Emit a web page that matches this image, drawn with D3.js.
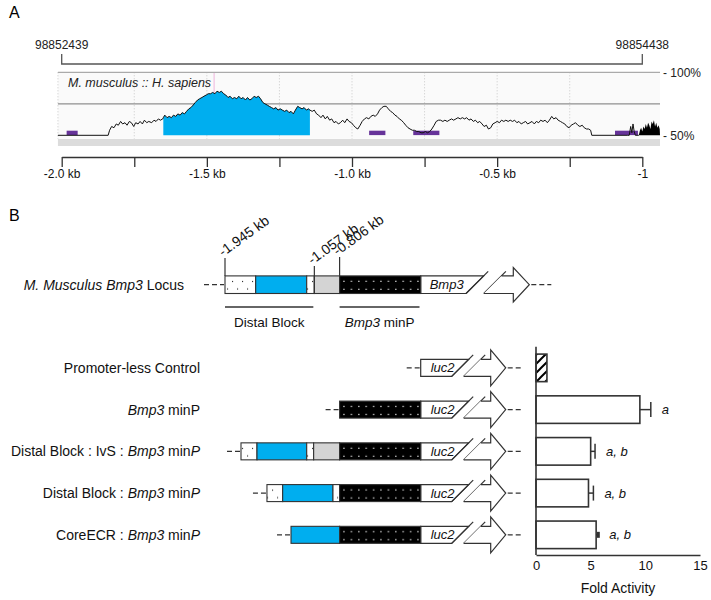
<!DOCTYPE html>
<html>
<head>
<meta charset="utf-8">
<script src="https://cdn.jsdelivr.net/npm/d3@7"></script>
<style>
body { margin: 0; background: #fff; }
svg { font-family: "Liberation Sans", Arial, sans-serif; }
</style>
</head>
<body>
<svg id="fig" width="711" height="600"></svg>
<script>
// ---------- Panel A data: mouse/human conservation (kb from TSS, % identity)
var conservation = [
    [-2.013, 50], [-1.84, 50], [-1.835, 54], [-1.828, 57], [-1.82, 56], [-1.812, 59], [-1.805, 58],
    [-1.797, 61], [-1.79, 59], [-1.782, 60], [-1.775, 58], [-1.767, 61], [-1.76, 60], [-1.752, 57],
    [-1.745, 60], [-1.737, 59], [-1.73, 61], [-1.722, 59], [-1.715, 62], [-1.707, 60], [-1.70, 61],
    [-1.69, 60], [-1.682, 62], [-1.675, 61], [-1.667, 63], [-1.66, 62], [-1.652, 63], [-1.65, 64],
    [-1.645, 66], [-1.637, 64], [-1.63, 65], [-1.622, 64], [-1.615, 66], [-1.607, 65], [-1.60, 67],
    [-1.592, 66], [-1.585, 68], [-1.577, 67], [-1.57, 69], [-1.562, 71], [-1.555, 72], [-1.547, 74],
    [-1.54, 76], [-1.532, 78], [-1.525, 79], [-1.517, 80], [-1.51, 81], [-1.502, 82], [-1.495, 83],
    [-1.487, 83], [-1.48, 84], [-1.472, 83], [-1.465, 85], [-1.457, 84], [-1.45, 85], [-1.442, 83],
    [-1.435, 82], [-1.427, 80], [-1.42, 81], [-1.412, 79], [-1.405, 80], [-1.397, 79], [-1.39, 81],
    [-1.382, 79], [-1.375, 80], [-1.367, 78], [-1.36, 80], [-1.352, 78], [-1.345, 79], [-1.337, 81],
    [-1.33, 80], [-1.322, 81], [-1.315, 79], [-1.307, 76], [-1.30, 75], [-1.292, 74], [-1.285, 73],
    [-1.277, 72], [-1.27, 71], [-1.262, 72], [-1.255, 70], [-1.247, 71], [-1.24, 70], [-1.232, 69],
    [-1.225, 70], [-1.217, 68], [-1.21, 69], [-1.202, 67], [-1.195, 70], [-1.187, 73], [-1.18, 72],
    [-1.172, 71], [-1.165, 72], [-1.157, 70], [-1.15, 71], [-1.145, 70], [-1.137, 69], [-1.13, 70],
    [-1.122, 67], [-1.115, 66], [-1.107, 64], [-1.10, 66], [-1.092, 63], [-1.085, 65], [-1.077, 62],
    [-1.07, 63], [-1.062, 60], [-1.055, 61], [-1.047, 59], [-1.04, 60], [-1.032, 62], [-1.025, 60],
    [-1.017, 63], [-1.01, 61], [-1.002, 60], [-0.995, 58], [-0.987, 56], [-0.98, 55], [-0.972, 58],
    [-0.965, 61], [-0.957, 63], [-0.95, 64], [-0.942, 63], [-0.935, 65], [-0.927, 66], [-0.92, 65],
    [-0.912, 67], [-0.905, 70], [-0.897, 72], [-0.89, 73], [-0.882, 73], [-0.875, 71], [-0.867, 69],
    [-0.86, 68], [-0.852, 66], [-0.845, 65], [-0.837, 63], [-0.83, 62], [-0.822, 60], [-0.815, 58],
    [-0.807, 56], [-0.80, 55], [-0.792, 54], [-0.785, 54], [-0.777, 53], [-0.77, 53], [-0.762, 52],
    [-0.755, 52], [-0.747, 53], [-0.74, 52], [-0.732, 53], [-0.725, 55], [-0.717, 58], [-0.71, 61],
    [-0.702, 62], [-0.695, 62], [-0.687, 61], [-0.68, 62], [-0.672, 61], [-0.665, 62], [-0.657, 63],
    [-0.65, 62], [-0.642, 63], [-0.635, 64], [-0.627, 63], [-0.62, 64], [-0.612, 63], [-0.605, 64],
    [-0.597, 62], [-0.59, 63], [-0.582, 61], [-0.575, 62], [-0.567, 60], [-0.56, 61], [-0.552, 59],
    [-0.545, 57], [-0.537, 58], [-0.53, 55], [-0.522, 56], [-0.515, 59], [-0.507, 60], [-0.50, 61],
    [-0.492, 60], [-0.485, 62], [-0.477, 61], [-0.47, 62], [-0.462, 61], [-0.455, 62], [-0.447, 61],
    [-0.44, 62], [-0.432, 60], [-0.425, 61], [-0.417, 59], [-0.41, 60], [-0.402, 61], [-0.395, 59],
    [-0.387, 60], [-0.38, 61], [-0.372, 59], [-0.365, 61], [-0.357, 60], [-0.35, 62], [-0.342, 61],
    [-0.335, 62], [-0.327, 60], [-0.32, 62], [-0.312, 65], [-0.305, 63], [-0.297, 64], [-0.29, 62],
    [-0.282, 61], [-0.275, 60], [-0.267, 59], [-0.26, 57], [-0.252, 56], [-0.245, 58], [-0.237, 59],
    [-0.23, 60], [-0.222, 58], [-0.215, 57], [-0.207, 58], [-0.20, 56], [-0.192, 55], [-0.185, 55],
    [-0.178, 54], [-0.174, 50], [-0.05, 50], [-0.045, 50], [-0.04, 57], [-0.036, 52], [-0.032, 59],
    [-0.028, 53], [-0.024, 50], [-0.012, 50]
];
var exonTrack = [
    [-0.012, 50], [-0.008, 54], [-0.004, 56], [0.0, 53], [0.004, 57], [0.008, 55], [0.012, 59],
    [0.016, 56], [0.02, 60], [0.024, 58], [0.028, 55], [0.032, 61], [0.036, 59], [0.04, 62],
    [0.044, 57], [0.048, 60], [0.052, 56], [0.056, 58], [0.06, 55], [0.061, 50]
];
var ecrRange = [-1.65, -1.145];
var repeatStarts = [-1.983, -0.941, -0.789, -0.094];
var repeatEnds = [-1.945, -0.885, -0.699, -0.015];
var trackRange = [-2.013, 0.061];
var axisTicksKb = [-2, -1.75, -1.5, -1.25, -1, -0.75, -0.5, -0.25, 0];
var axisTickLabels = ["-2.0 kb", "", "-1.5 kb", "", "-1.0 kb", "", "-0.5 kb", "", "-1"];
var coordKb = [-2, 0];
var coordLabels = ["98852439", "98854438"];
var pctTicks = [100, 50];
var pinkMarkKb = -1.475;

// ---------- Panel B data
var rowNames = ["ctrl", "minp", "dbivs", "db", "core"];
var rowLabels = [
    [["Promoter-less Control", false]],
    [["Bmp3", true], [" minP", false]],
    [["Distal Block : IvS : ", false], ["Bmp3", true], [" min", false], ["P", true]],
    [["Distal Block : ", false], ["Bmp3", true], [" min", false], ["P", true]],
    [["CoreECR : ", false], ["Bmp3", true], [" min", false], ["P", true]]
];
var foldValues = [1.0, 9.5, 5.0, 4.8, 5.5];
var foldErrors = [0, 1.0, 0.4, 0.45, 0.2];
var sigLetters = ["", "a", "a, b", "a, b", "a, b"];
var foldTicks = [0, 5, 10, 15];

var locusSegments = [[-1.945, -1.640, "dot"], [-1.640, -1.133, "ecr"], [-1.133, -1.057, "dot"],
                     [-1.057, -0.806, "ivs"], [-0.806, 0, "minp"]];
var rowSegments = [
    [],
    [[-0.806, 0, "minp"]],
    [[-1.786, -1.627, "dot"], [-1.627, -1.133, "ecr"], [-1.133, -1.064, "dot"], [-1.064, -0.806, "ivs"], [-0.806, 0, "minp"]],
    [[-1.528, -1.372, "dot"], [-1.372, -0.872, "ecr"], [-0.872, -0.806, "dot"], [-0.806, 0, "minp"]],
    [[-1.289, -0.806, "ecr"], [-0.806, 0, "minp"]]
];
var locusMarksKb = [-1.945, -1.057, -0.806];
var locusMarkLabels = ["-1.945 kb", "-1.057 kb", "-0.806 kb"];
var locusMarkTops = [258, 266, 257];
var regionKb = [[-1.945, -1.067], [-0.806, -0.012]];
var regionLabels = [[["Distal Block", false]], [["Bmp3", true], [" minP", false]]];

var BLUE = "#00aeef", INK = "#333";

var svg = d3.select("#fig");
var defs = svg.append("defs");

function addRuns(textSel, runs) {
    runs.forEach(function(r) {
        textSel.append("tspan").text(r[0]).style("font-style", r[1] ? "italic" : "normal");
    });
}

// ================= Panel A =================
var xA = d3.scaleLinear().domain([-2, 0]).range([61.7, 642.3]);
var yA = d3.scaleLinear().domain([50, 100]).range([135.3, 72.3]);

svg.append("text").attr("x", 9).attr("y", 18).style("font-size", "16px").text("A");

// bracket with genomic coordinates
svg.append("path")
    .attr("d", "M" + xA(coordKb[0]) + ",54V64H" + xA(coordKb[1]) + "V54")
    .attr("fill", "none").attr("stroke", "#555").attr("stroke-width", 1.3);
svg.selectAll(".coord").data(coordLabels).enter().append("text")
    .attr("x", function(d, i) { return xA(coordKb[i]); })
    .attr("y", 48.5).attr("text-anchor", "middle")
    .style("font-size", "12px").attr("fill", "#222")
    .text(function(d) { return d; });

var boxL = xA(trackRange[0]), boxR = xA(trackRange[1]);
svg.append("rect").attr("x", boxL).attr("y", yA(100)).attr("width", boxR - boxL)
    .attr("height", yA(50) + 3.5 - yA(100)).attr("fill", "#fafafa");
svg.append("rect").attr("x", boxL).attr("y", yA(50) + 3.7).attr("width", boxR - boxL)
    .attr("height", 7).attr("fill", "#dcdcdc");

// grid
svg.selectAll(".vgrid").data(axisTicksKb.slice(1, -1).concat([trackRange[0]])).enter().append("line")
    .attr("x1", function(d) { return xA(d); }).attr("x2", function(d) { return xA(d); })
    .attr("y1", yA(100)).attr("y2", yA(50) + 3.5)
    .attr("stroke", "#c8c8c8").attr("stroke-dasharray", "1,2");
svg.append("line").attr("x1", xA(pinkMarkKb)).attr("x2", xA(pinkMarkKb))
    .attr("y1", yA(100)).attr("y2", yA(83)).attr("stroke", "#eeb4dc");
svg.append("line").attr("x1", boxL).attr("x2", boxR).attr("y1", yA(100)).attr("y2", yA(100))
    .attr("stroke", "#aaa").attr("stroke-width", 1.2);
svg.append("line").attr("x1", boxL).attr("x2", boxR).attr("y1", yA(75)).attr("y2", yA(75))
    .attr("stroke", "#8f8f8f").attr("stroke-width", 1.3);

svg.selectAll(".pct").data(pctTicks).enter().append("text")
    .attr("x", boxR + 3).attr("y", function(d) { return yA(d) + 4.5; })
    .style("font-size", "12px").attr("fill", "#222")
    .text(function(d) { return "- " + d + "%"; });

svg.append("text").attr("x", 68).attr("y", 87)
    .style("font-size", "12.5px").style("font-style", "italic").attr("fill", "#222")
    .text("M. musculus :: H. sapiens");

// conserved (ECR) fill
var areaA = d3.area().x(function(d) { return xA(d[0]); })
    .y0(yA(50)).y1(function(d) { return yA(d[1]); });
var ecrPts = conservation.filter(function(d) { return d[0] >= ecrRange[0] && d[0] <= ecrRange[1]; });
svg.append("path").attr("d", areaA(ecrPts)).attr("fill", BLUE);
svg.append("path").attr("d", areaA(exonTrack)).attr("fill", "#000");

// repeats
svg.selectAll(".rep").data(repeatStarts).enter().append("rect")
    .attr("x", function(d) { return xA(d); })
    .attr("width", function(d, i) { return xA(repeatEnds[i]) - xA(d); })
    .attr("y", yA(50) - 4.6).attr("height", 4.4).attr("fill", "#663399");

var lineA = d3.line().x(function(d) { return xA(d[0]); }).y(function(d) { return yA(d[1]); });
svg.append("path").attr("d", lineA(conservation)).attr("fill", "none")
    .attr("stroke", "#111").attr("stroke-width", 1);

// kb axis
var axA = svg.append("g").attr("transform", "translate(0,157)")
    .call(d3.axisBottom(xA).tickValues(axisTicksKb)
        .tickFormat(function(d, i) { return axisTickLabels[i]; })
        .tickSize(10).tickSizeOuter(0).tickPadding(2));
axA.select(".domain").attr("stroke", INK).attr("stroke-width", 1.3);
axA.selectAll(".tick line").attr("stroke", INK).attr("stroke-width", 1.3);
axA.selectAll(".tick text").style("font-size", "12px").attr("fill", "#111")
    .style("font-family", "Liberation Sans, Arial, sans-serif");

// ================= Panel B =================
svg.append("text").attr("x", 9).attr("y", 221).style("font-size", "16px").text("B");

var xS = d3.scaleLinear().domain([-1.945, 0]).range([225, 420.7]);
var xF = d3.scaleLinear().domain([0, 15]).range([536, 700]);
var yB = d3.scaleBand().domain(rowNames).range([347, 555.7]).paddingInner(0.34).paddingOuter(0.17);
var bw = yB.bandwidth();

var locusGlyph = { h: 8.8, c1: 63, c2: 80.7, hb: 92.6, tip: 108.6, head: 17.2, lead: 20, tail: 20, label: "Bmp3", lx: 9 };
var lucGlyph = { h: 8.5, c1: 48, c2: 60, hb: 70, tip: 85, head: 18, lead: 13, tail: 15, label: "luc2", lx: 10 };

function makePatterns(id, top) {
    var pk = defs.append("pattern").attr("id", "dk" + id).attr("patternUnits", "userSpaceOnUse")
        .attr("x", 0).attr("y", top).attr("width", 7.4).attr("height", 8);
    pk.append("rect").attr("width", 7.4).attr("height", 8).attr("fill", "#000");
    pk.append("rect").attr("x", 3).attr("y", 4.8).attr("width", 1.2).attr("height", 1.2).attr("fill", "#fff");
    var pw = defs.append("pattern").attr("id", "wt" + id).attr("patternUnits", "userSpaceOnUse")
        .attr("x", 0).attr("y", top).attr("width", 10).attr("height", 16);
    pw.append("rect").attr("width", 10).attr("height", 16).attr("fill", "#fff");
    pw.append("rect").attr("x", 2).attr("y", 5).attr("width", 1.1).attr("height", 1.1).attr("fill", "#222");
    pw.append("rect").attr("x", 7).attr("y", 12.5).attr("width", 1.1).attr("height", 1.1).attr("fill", "#222");
}

function segFill(type, id) {
    if (type === "ecr") return BLUE;
    if (type === "ivs") return "#d4d4d4";
    if (type === "minp") return "url(#dk" + id + ")";
    return "url(#wt" + id + ")";
}

function drawConstruct(id, segs, cy, gl) {
    var h = gl.h, top = cy - h, bot = cy + h;
    var x0 = xS(0);
    var g = svg.append("g");
    makePatterns(id, top);
    var startX = segs.length ? xS(segs[0][0]) : x0;

    g.append("line").attr("x1", startX - gl.lead - 1).attr("x2", startX - 1)
        .attr("y1", cy).attr("y2", cy).attr("stroke", INK).attr("stroke-width", 1.2)
        .attr("stroke-dasharray", "5,3");

    // reporter / gene box with broken end
    g.append("path")
        .attr("d", "M" + x0 + "," + top + "H" + (x0 + gl.c1) + "L" + (x0 + gl.c1 - 2 * h) + "," + bot + "H" + x0 + "Z")
        .attr("fill", "#fff").attr("stroke", INK).attr("stroke-width", 1.2);
    [gl.c1, gl.c2].forEach(function(c) {
        g.append("line").attr("x1", x0 + c + 4.5).attr("y1", top - 4.5)
            .attr("x2", x0 + c - 2 * h).attr("y2", bot)
            .attr("stroke", INK).attr("stroke-width", 1.2);
    });
    g.append("path")
        .attr("d", "M" + (x0 + gl.c2) + "," + top + "H" + (x0 + gl.hb) + "V" + (cy - gl.head) +
            "L" + (x0 + gl.tip) + "," + cy + "L" + (x0 + gl.hb) + "," + (cy + gl.head) +
            "V" + bot + "H" + (x0 + gl.c2 - 2 * h))
        .attr("fill", "#fff").attr("stroke", INK).attr("stroke-width", 1.2).attr("stroke-linejoin", "miter");
    g.append("text").attr("x", x0 + gl.lx).attr("y", cy + 4.6)
        .style("font-size", "13px").style("font-style", "italic").attr("fill", "#111").text(gl.label);
    g.append("line").attr("x1", x0 + gl.tip + 2).attr("x2", x0 + gl.tip + 2 + gl.tail)
        .attr("y1", cy).attr("y2", cy).attr("stroke", INK).attr("stroke-width", 1.2)
        .attr("stroke-dasharray", "5,3");

    g.selectAll(".seg").data(segs).enter().append("rect")
        .attr("x", function(d) { return xS(d[0]); })
        .attr("width", function(d) { return xS(d[1]) - xS(d[0]); })
        .attr("y", top).attr("height", 2 * h)
        .attr("fill", function(d) { return segFill(d[2], id); })
        .attr("stroke", INK).attr("stroke-width", 1.1);
}

// locus
var locusY = 284.7;
svg.append("text").attr("x", 184).attr("y", locusY + 5).attr("text-anchor", "end")
    .style("font-size", "14px").attr("fill", "#111")
    .call(addRuns, [["M. Musculus ", true], ["Bmp3", true], [" Locus", false]]);
drawConstruct("L", locusSegments, locusY, locusGlyph);

svg.selectAll(".mark").data(locusMarksKb).enter().append("line")
    .attr("x1", function(d) { return xS(d); }).attr("x2", function(d) { return xS(d); })
    .attr("y1", function(d, i) { return locusMarkTops[i]; })
    .attr("y2", function(d, i) { return i === 1 ? locusY + locusGlyph.h : locusY - locusGlyph.h; })
    .attr("stroke", INK).attr("stroke-width", 1.2);
svg.selectAll(".markLbl").data(locusMarkLabels).enter().append("text")
    .attr("transform", function(d, i) {
        return "translate(" + (xS(locusMarksKb[i]) - 2) + "," + (locusMarkTops[i] - 1) + ") rotate(-36)";
    })
    .style("font-size", "14px").attr("fill", "#111")
    .text(function(d) { return d; });

regionKb.forEach(function(r, i) {
    svg.append("line").attr("x1", xS(r[0])).attr("x2", xS(r[1])).attr("y1", 307).attr("y2", 307)
        .attr("stroke", INK).attr("stroke-width", 1.3);
    svg.append("text").attr("x", (xS(r[0]) + xS(r[1])) / 2).attr("y", 326.5).attr("text-anchor", "middle")
        .style("font-size", "13.5px").attr("fill", "#111").call(addRuns, regionLabels[i]);
});

// construct rows
rowNames.forEach(function(name, i) {
    var cy = yB(name) + bw / 2;
    svg.append("text").attr("x", 200).attr("y", cy + 5).attr("text-anchor", "end")
        .style("font-size", "14px").attr("fill", "#111").call(addRuns, rowLabels[i]);
    drawConstruct("R" + i, rowSegments[i], cy, lucGlyph);
});

// bar chart
var hatch = defs.append("pattern").attr("id", "hatch").attr("patternUnits", "userSpaceOnUse")
    .attr("width", 9).attr("height", 9);
hatch.append("rect").attr("width", 9).attr("height", 9).attr("fill", "#fff");
hatch.append("path").attr("d", "M0,9L9,0M-3,3L3,-3M6,12L12,6")
    .attr("stroke", "#000").attr("stroke-width", 2);

var bars = svg.selectAll(".bar").data(rowNames).enter().append("g");
bars.append("rect")
    .attr("x", xF(0))
    .attr("y", function(d) { return yB(d); })
    .attr("width", function(d, i) { return xF(foldValues[i]) - xF(0); })
    .attr("height", bw)
    .attr("fill", function(d, i) { return i === 0 ? "url(#hatch)" : "#fff"; })
    .attr("stroke", INK).attr("stroke-width", 1.6);
bars.filter(function(d, i) { return foldErrors[i] > 0; }).each(function(d) {
    var i = rowNames.indexOf(d), cy = yB(d) + bw / 2;
    var x1 = xF(foldValues[i]), x2 = xF(foldValues[i] + foldErrors[i]);
    var cap = foldErrors[i] < 0.3 ? 3 : 7.5;
    var g = d3.select(this);
    g.append("line").attr("x1", x1).attr("x2", x2).attr("y1", cy).attr("y2", cy)
        .attr("stroke", INK).attr("stroke-width", 1.5);
    g.append("line").attr("x1", x2).attr("x2", x2).attr("y1", cy - cap).attr("y2", cy + cap)
        .attr("stroke", INK).attr("stroke-width", foldErrors[i] < 0.3 ? 3 : 1.5);
});
bars.append("text")
    .attr("x", function(d, i) { return xF(foldValues[i] + foldErrors[i]) + 11; })
    .attr("y", function(d) { return yB(d) + bw / 2 + 4.6; })
    .style("font-size", "13px").style("font-style", "italic").attr("fill", "#111")
    .text(function(d, i) { return sigLetters[i]; });

svg.append("line").attr("x1", xF(0)).attr("x2", xF(0)).attr("y1", 346.7).attr("y2", 555)
    .attr("stroke", INK).attr("stroke-width", 1.6);
var axF = svg.append("g").attr("transform", "translate(0,555)")
    .call(d3.axisBottom(xF).tickValues(foldTicks).tickSize(0).tickSizeOuter(0).tickPadding(5.5));
axF.select(".domain").attr("stroke", INK).attr("stroke-width", 1.6);
axF.selectAll(".tick text").style("font-size", "13px").attr("fill", "#111")
    .style("font-family", "Liberation Sans, Arial, sans-serif");
svg.append("text").attr("x", (xF(0) + xF(15)) / 2).attr("y", 593).attr("text-anchor", "middle")
    .style("font-size", "14px").attr("fill", "#111").text("Fold Activity");
</script>
</body>
</html>
